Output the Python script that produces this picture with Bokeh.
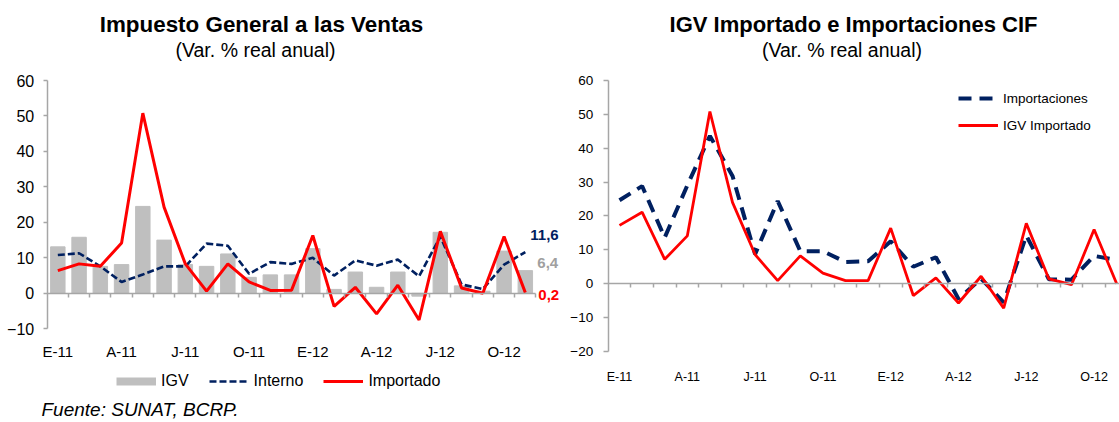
from bokeh.plotting import figure
from bokeh.layouts import row
from bokeh.models import FixedTicker, LinearAxis, Range1d, Label, Legend, LegendItem
from bokeh.embed import file_html
from bokeh.resources import INLINE
from bokeh.core.properties import value

# ---------------- data ----------------
months = ["E-11", "F-11", "M-11", "A-11", "M-11", "J-11", "J-11", "A-11", "S-11", "O-11", "N-11", "D-11",
          "E-12", "F-12", "M-12", "A-12", "M-12", "J-12", "J-12", "A-12", "S-12", "O-12", "N-12"]
tick_positions = [0, 3, 6, 9, 12, 15, 18, 21]
tick_labels = ["E-11", "A-11", "J-11", "O-11", "E-12", "A-12", "J-12", "O-12"]

# Left panel: Impuesto General a las Ventas
igv = [13.1, 15.8, 7.6, 8.1, 24.5, 15.0, 8.1, 7.6, 11.1, 4.5, 5.2, 5.2,
       12.6, 1.1, 6.0, 1.7, 6.0, -0.8, 17.2, 2.1, 0.6, 11.9, 6.4]
interno = [10.8, 11.3, 7.6, 3.2, 5.3, 7.6, 7.6, 14.0, 13.4, 5.5, 8.8, 8.3,
           10.0, 5.0, 9.3, 7.8, 9.5, 4.8, 16.0, 2.5, 1.2, 8.1, 11.6]
importado = [6.4, 8.3, 7.6, 14.2, 50.8, 24.3, 8.3, 0.6, 8.3, 3.2, 0.8, 0.9,
             16.3, -3.7, 1.7, -5.8, 2.3, -7.5, 17.5, 1.5, 0.0, 16.0, 0.2]

# Right panel: IGV Importado e Importaciones CIF
importaciones = [24.6, 28.8, 13.6, 29.0, 43.6, 31.8, 8.7, 24.4, 9.6, 9.6, 6.4, 6.6,
                 12.5, 5.0, 7.8, -4.5, 1.5, -5.5, 14.2, 1.3, 1.2, 8.2, 7.0]
igv_importado = [17.2, 21.1, 7.2, 14.1, 50.8, 24.0, 8.6, 0.9, 8.2, 3.1, 0.9, 0.9,
                 16.4, -3.5, 1.7, -5.7, 2.2, -7.2, 17.8, 1.4, -0.3, 16.0, 0.0]

xs = list(range(len(months)))

# ---------------- style ----------------
FONT = "Liberation Sans"
NAVY = "#002060"
RED = "#ff0000"
BAR = "#bfbfbf"
AXIS = "#a6a6a6"
TXT = "#000000"
H = 422


def fmt(v):
    return f"{v:.1f}".replace(".", ",")


def make_panel(width, x_start, px_per_cat, y_top_val, y_top_px, px_per_unit,
               y_min, y_max, ylab_size, xlab_size, xlab_standoff, ylab_standoff, ytick_out, x_last):
    x_end = x_start + width / px_per_cat
    y_end = y_top_val + y_top_px / px_per_unit
    y_start = y_top_val - (H - y_top_px) / px_per_unit
    p = figure(width=width, height=H, x_range=Range1d(x_start, x_end), y_range=Range1d(y_start, y_end),
               output_backend="svg", toolbar_location=None,
               x_axis_location=None, y_axis_location=None,
               min_border_left=0, min_border_right=0, min_border_top=0, min_border_bottom=0)
    p.outline_line_color = None
    p.grid.visible = False
    p.background_fill_color = "white"
    p.border_fill_color = "white"

    y_ticks = list(range(y_min, y_max + 1, 10))
    ya = LinearAxis(fixed_location=-0.5, ticker=FixedTicker(ticks=y_ticks), bounds=(y_min, y_max),
                    axis_line_color=AXIS, axis_line_width=1.5,
                    major_tick_line_color=AXIS, major_tick_line_width=1.5,
                    major_tick_in=0, major_tick_out=ytick_out, minor_tick_line_color=None,
                    major_label_standoff=ylab_standoff, major_label_text_font=FONT,
                    major_label_text_font_size=ylab_size, major_label_text_color=TXT)
    p.add_layout(ya, "left")

    bticks = [i + 0.5 for i in range(len(months))]
    zax = LinearAxis(fixed_location=0, ticker=FixedTicker(ticks=bticks), bounds=(-0.5, x_last),
                     axis_line_color=AXIS, axis_line_width=1.5,
                     major_tick_line_color=AXIS, major_tick_line_width=1.5,
                     major_tick_in=0, major_tick_out=4, minor_tick_line_color=None,
                     major_label_overrides={t: "" for t in bticks},
                     major_label_text_font_size="1px")
    p.add_layout(zax, "below")

    xa = LinearAxis(fixed_location=y_min, ticker=FixedTicker(ticks=tick_positions),
                    major_label_overrides={t: l for t, l in zip(tick_positions, tick_labels)},
                    axis_line_color=None, major_tick_line_color=None, minor_tick_line_color=None,
                    major_label_standoff=xlab_standoff, major_label_text_font=FONT,
                    major_label_text_font_size=xlab_size, major_label_text_color=TXT)
    p.add_layout(xa, "below")
    return p


def add_label(p, x, y_from_top, text, size, style="normal", align="center"):
    p.add_layout(Label(x=x, y=H - y_from_top, x_units="screen", y_units="screen",
                       text=text, text_align=align, text_baseline="alphabetic",
                       text_font=FONT, text_font_style=style,
                       text_font_size=size, text_color=TXT))


# ---------------- left panel ----------------
LW = 560
p1 = make_panel(LW, -0.5 - 46.7 / 21.25, 21.25, 60, 80.0, 3.547, -10, 60,
                "16px", "15px", 8, 9, 4, 22.5)

r_igv = p1.vbar(x=xs, top=igv, width=0.68, color=BAR)
r_int = p1.line(xs, interno, color=NAVY, line_width=2.6, line_dash="7 3")
r_imp = p1.line(xs, importado, color=RED, line_width=3)
# legend swatch for the bars (a thick flat stroke, as in the original legend)
r_igv_leg = p1.line(x=[float("nan")], y=[float("nan")], color=BAR, line_width=8)

last = xs[-1]
p1.text(x=[last], y=[interno[-1]], text=[fmt(interno[-1])], x_offset=5, y_offset=-17,
        text_baseline="middle", text_align="left", text_font=value(FONT),
        text_font_style="bold", text_font_size="15px", text_color=NAVY)
p1.text(x=[last], y=[igv[-1]], text=[fmt(igv[-1])], x_offset=12, y_offset=-8,
        text_baseline="middle", text_align="left", text_font=value(FONT),
        text_font_style="bold", text_font_size="15px", text_color="#a0a0a0")
p1.text(x=[last], y=[importado[-1]], text=[fmt(importado[-1])], x_offset=13, y_offset=2,
        text_baseline="middle", text_align="left", text_font=value(FONT),
        text_font_style="bold", text_font_size="15px", text_color=RED)

leg1 = Legend(items=[LegendItem(label="IGV", renderers=[r_igv_leg]),
                     LegendItem(label="Interno", renderers=[r_int]),
                     LegendItem(label="Importado", renderers=[r_imp])],
              orientation="horizontal", location=(116, 31),
              glyph_width=40, glyph_height=20, label_height=20, label_standoff=5, spacing=20,
              padding=0, margin=0, border_line_color=None, background_fill_alpha=0,
              label_text_font=FONT, label_text_font_size="16px", label_text_color=TXT)
p1.add_layout(leg1, "center")

add_label(p1, 261, 24, "Impuesto General a las Ventas", "22.4px", "bold")
add_label(p1, 255, 49, "(Var. % real anual)", "19.5px")
add_label(p1, 41, 409, "Fuente: SUNAT, BCRP.", "19px", "italic", "left")

# ---------------- right panel ----------------
RW = 559
r_start = -59.0 / 22.6
r_end = r_start + RW / 22.6
p2 = make_panel(RW, r_start, 22.6, 60, 79.8, 3.39, -20, 60,
                "13.5px", "12.5px", 12, 10, 5, r_end)

r_m = p2.line(xs, importaciones, color=NAVY, line_width=4, line_dash="13 8")
r_i = p2.line(xs, igv_importado, color=RED, line_width=2.8)

leg2 = Legend(items=[LegendItem(label="Importaciones", renderers=[r_m]),
                     LegendItem(label="IGV Importado", renderers=[r_i])],
              orientation="vertical", location=(398, 287),
              glyph_width=40, glyph_height=20, label_height=20, label_standoff=5, spacing=7,
              padding=0, margin=0, border_line_color=None, background_fill_alpha=0,
              label_text_font=FONT, label_text_font_size="13.5px", label_text_color=TXT)
p2.add_layout(leg2, "center")

add_label(p2, 293, 24, "IGV Importado e Importaciones CIF", "22px", "bold")
add_label(p2, 281.5, 49, "(Var. % real anual)", "19.5px")

layout = row(p1, p2)
open("out.html", "w").write(file_html(layout, INLINE))
